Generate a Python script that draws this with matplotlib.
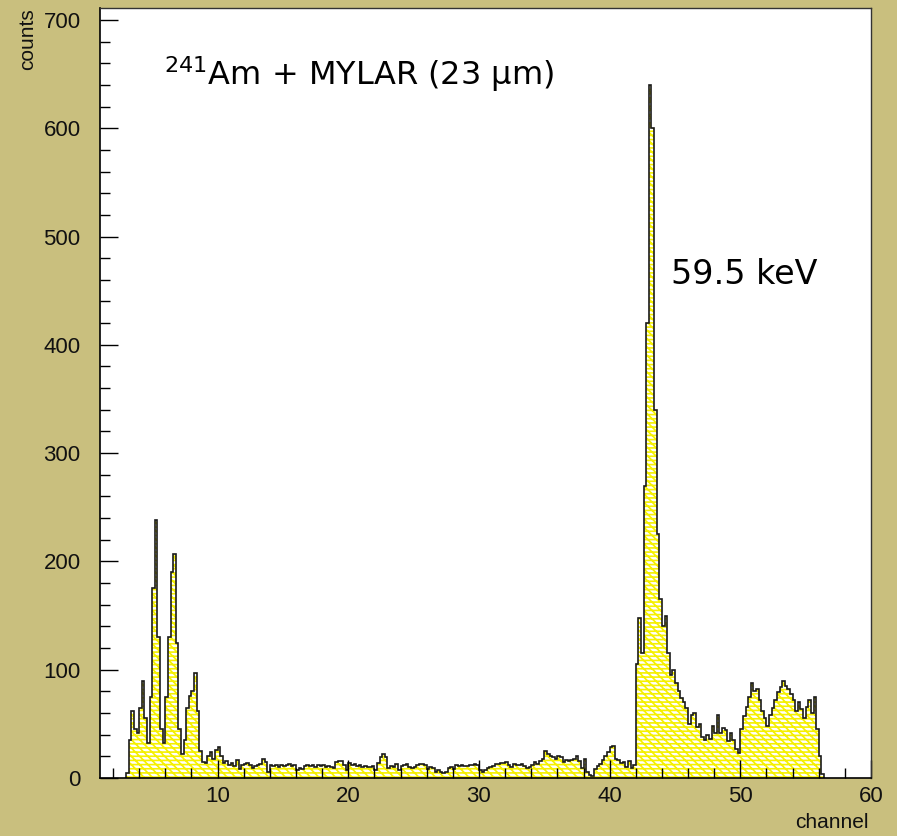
import numpy as np
import matplotlib
matplotlib.use("Agg")
import matplotlib.pyplot as plt
from matplotlib.ticker import MultipleLocator

# ---- data (counts per channel bin, bin width 0.2 starting at channel 3.0) ----
bin_start = 3.0
bin_width = 0.2

counts_low = [5, 35, 62, 45, 42, 65, 90, 55, 32, 75,
              175, 238, 130, 45, 32, 75, 130, 190, 207, 125,
              45, 22, 35, 65, 76, 80, 97, 62, 25, 15,
              14, 20, 24, 18, 26, 29]

counts_mid1 = [20, 14, 16, 12,
               14, 11, 17, 8, 12,
               13, 14, 12, 9, 11,
               12, 13, 18, 15, 6,
               12, 11, 12, 10, 12,
               11, 12, 13, 11, 12,
               7, 9, 8, 11, 12,
               11, 12, 10, 12, 11,
               12, 10, 11, 10, 9,
               15, 16, 16, 12, 7,
               14, 12, 13, 11, 12,
               10, 11, 10, 10, 11,
               7, 14, 19, 22, 19,
               9, 11, 10, 13, 7,
               11, 12, 13, 10, 9]

counts_mid2 = [10, 12, 13, 13, 12,
               8, 10, 9, 6, 7,
               6, 5, 6, 9, 10,
               8, 12, 11, 12, 11,
               11, 12, 12, 13, 12,
               7, 6, 7, 9, 10,
               11, 13, 13, 14, 14,
               15, 12, 10, 13, 12,
               12, 13, 11, 9, 10,
               12, 15, 13, 16, 18,
               25, 22, 20, 19, 18,
               20, 19, 15, 17, 16,
               17, 18, 20, 16, 9,
               18, 6, 3, 2, 8,
               11, 13, 17, 20, 24,
               29, 30, 18, 17, 14,
               15, 10, 16, 9, 12]

counts_high = [105, 148, 115, 270, 420,
               640, 600, 340, 225, 165,
               140, 150, 115, 95, 100,
               88, 80, 74, 70, 65,
               50, 58, 60, 47, 50,
               38, 35, 40, 36, 48,
               42, 58, 42, 46, 44,
               34, 42, 35, 27, 23,
               45, 57, 66, 75, 88,
               80, 82, 72, 62, 55,
               48, 58, 65, 72, 79,
               84, 90, 85, 82, 78,
               72, 62, 70, 64, 55,
               66, 72, 60, 75, 45,
               20, 4]

x_ticks = [10, 20, 30, 40, 50, 60]
y_ticks = [0, 100, 200, 300, 400, 500, 600, 700]

counts = np.array(counts_low + counts_mid1 + counts_mid2 + counts_high, dtype=float)
edges = bin_start + bin_width * np.arange(len(counts) + 1)

# ---- figure ----
BG = "#c9bf7e"
fig = plt.figure(figsize=(8.97, 8.36), dpi=100, facecolor=BG)
ax = fig.add_axes([100 / 897, 58 / 836, 771 / 897, 770 / 836])
ax.set_facecolor("white")

plt.rcParams["hatch.linewidth"] = 1.2
ax.stairs(counts, edges, baseline=0, fill=True, facecolor="white",
          edgecolor="#f5f000", hatch="\\\\\\\\----", linewidth=0)
ax.stairs(counts, edges, baseline=0, fill=False, color="#1a1a1a", linewidth=1.2)

ax.set_xlim(1, 60)
ax.set_ylim(0, 711)
ax.set_xticks(x_ticks)
ax.set_yticks(y_ticks)
ax.xaxis.set_minor_locator(MultipleLocator(2))
ax.yaxis.set_minor_locator(MultipleLocator(20))
ax.tick_params(axis="both", which="both", direction="in", top=False, right=False,
               colors="black", width=1.0)
ax.tick_params(axis="both", which="major", length=13, labelsize=16)
ax.tick_params(axis="y", which="major", pad=14)
ax.tick_params(axis="x", which="major", pad=6)
ax.tick_params(axis="both", which="minor", length=7)
for lab in ax.get_xticklabels() + ax.get_yticklabels():
    lab.set_fontfamily("Liberation Sans")
    lab.set_color("#111111")

for s in ["left", "bottom"]:
    ax.spines[s].set_linewidth(1.2)
    ax.spines[s].set_color("black")
for s in ["top", "right"]:
    ax.spines[s].set_linewidth(1.0)
    ax.spines[s].set_color("#333333")

fig.text(28 / 897, 1 - 8 / 836, "counts", rotation=90, ha="center", va="top",
         fontsize=15, family="Liberation Sans", color="#111111")
fig.text(869 / 897, 1 - 823 / 836, "channel", ha="right", va="center",
         fontsize=15, family="Liberation Sans", color="#111111")

ax.text(5.9, 650, r"$^{241}$Am + MYLAR (23 µm)", fontsize=23, family="DejaVu Sans",
        ha="left", va="center", color="black")
ax.text(44.7, 465, "59.5 keV", fontsize=24, family="DejaVu Sans",
        ha="left", va="center", color="black")

fig.savefig("out.png", dpi=100, facecolor=BG)
